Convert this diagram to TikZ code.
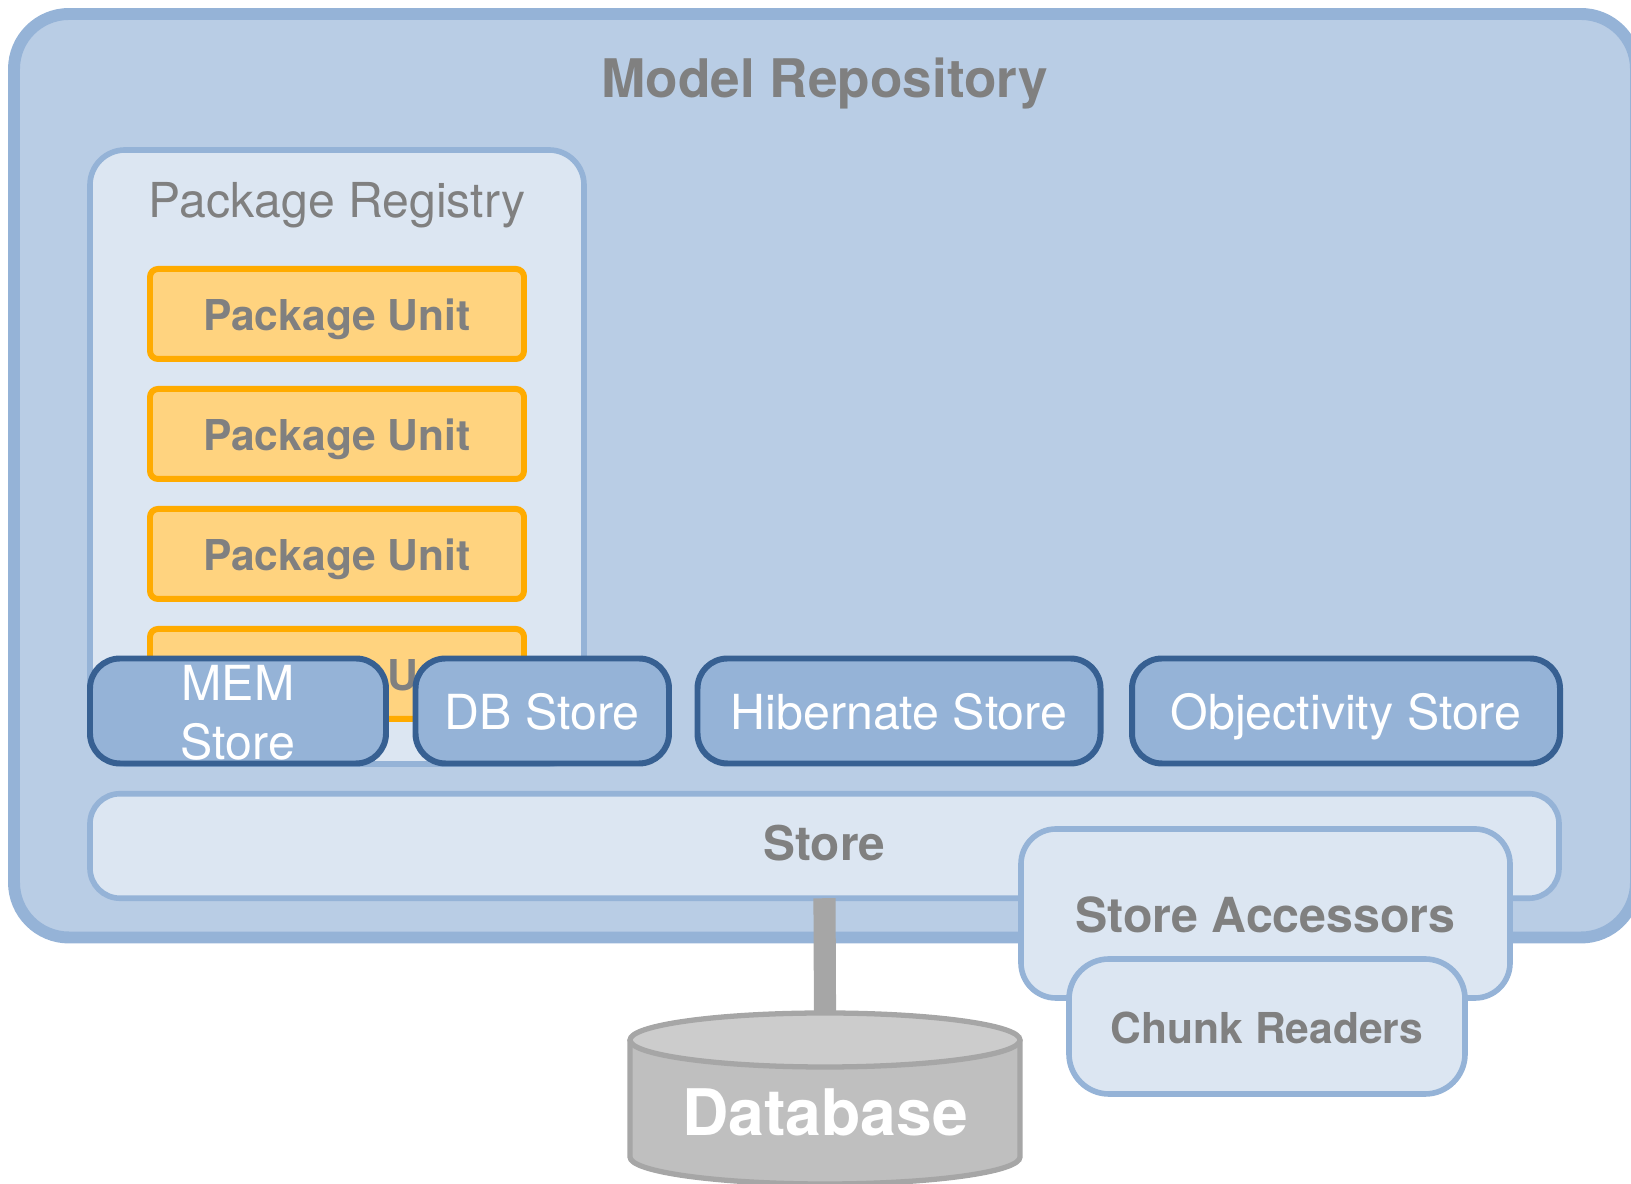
\documentclass[tikz,border=0pt]{standalone}
\usepackage{fontspec}
\setmainfont{TeX Gyre Heros}
\definecolor{repofill}{HTML}{B9CDE5}
\definecolor{repoline}{HTML}{95B3D7}
\definecolor{lightfill}{HTML}{DCE6F2}
\definecolor{unitfill}{HTML}{FFD37F}
\definecolor{unitline}{HTML}{FFAB00}
\definecolor{storeline}{HTML}{376092}
\definecolor{labelgrey}{HTML}{808080}
\definecolor{dbline}{HTML}{A6A6A6}
\definecolor{dbbody}{HTML}{BFBFBF}
\definecolor{dbtop}{HTML}{CCCCCC}
\tikzset{
    repobox/.style={draw=repoline, fill=repofill, line width=3.4pt, rounded corners=0.55cm,
        minimum width=16.22cm, minimum height=9.235cm},
    lightbox/.style={draw=repoline, fill=lightfill, line width=1.6pt, text=labelgrey},
    unitbox/.style={draw=unitline, fill=unitfill, line width=1.7pt, rounded corners=0.08cm,
        minimum width=3.74cm, minimum height=0.9cm, text=labelgrey, inner sep=0pt, text depth=0pt, text height=9.3pt,
        font=\fontsize{12.1}{15}\selectfont\bfseries},
    storebox/.style={draw=storeline, fill=repoline, line width=1.7pt, rounded corners=0.3cm,
        minimum height=1.05cm, text=white, inner sep=0pt, align=center,
        font=\fontsize{13.75}{17}\selectfont},
    title/.style={text=labelgrey, inner sep=0pt},
    dbshape/.style={draw=dbline, line width=1.5pt}
}
\begin{document}
\begin{tikzpicture}

    \clip (0,0) rectangle (16.31,11.84);

    \node[repobox] (repo) at (8.25,7.0825) {};
    \node[title, font=\fontsize{15.13}{18}\selectfont\bfseries] (repotitle) at (8.25,11.0) {Model Repository};

    \node[lightbox, rounded corners=0.35cm, minimum width=4.94cm, minimum height=6.14cm] (registry) at (3.37,7.27) {};
    \node[title, font=\fontsize{13.7}{16}\selectfont] (registrytitle) at (3.37,9.79) {Package Registry};

    \foreach \y/\n in {8.7/a,7.5/b,6.3/c,5.1/d}
      \node[unitbox] (unit\n) at (3.37,\y) {Package Unit};

    \node[storebox, minimum width=2.96cm, text width=2.96cm, text height=11.1pt] (memstore) at (2.38,4.73) {MEM\\Store};
    \node[storebox, minimum width=2.535cm, text depth=0pt] (dbstore) at (5.4225,4.73) {DB Store};
    \node[storebox, minimum width=4.03cm, text depth=0pt] (hibstore) at (8.99,4.73) {Hibernate Store};
    \node[storebox, minimum width=4.28cm, text depth=0pt] (objstore) at (13.46,4.73) {Objectivity Store};

    \node[lightbox, rounded corners=0.3cm, minimum width=14.69cm, minimum height=1.045cm, text depth=1.8pt,
        font=\fontsize{13.6}{16}\selectfont\bfseries] (store) at (8.245,3.38) {Store};

    \draw[dbshape, fill=dbbody] (6.3,1.44) -- (6.3,0.27) arc[start angle=180, end angle=360, x radius=1.95, y radius=0.27] -- (10.2,1.44);
    \draw[dbshape, fill=dbtop] (8.25,1.44) ellipse [x radius=1.95, y radius=0.27];
    \coordinate (dbtop) at (8.25,1.71);
    \node[title, text=white, font=\fontsize{18.27}{20}\selectfont\bfseries] (dbtitle) at (8.25,0.72) {Database};
    \draw[dbline, line width=6.3pt, shorten <=-0.8pt] (store.south) -- (dbtop);

    \node[lightbox, rounded corners=0.35cm, minimum width=4.89cm, minimum height=1.69cm, text height=10.8pt,
        font=\fontsize{13.75}{16}\selectfont\bfseries] (accessors) at (12.655,2.705) {Store Accessors};
    \node[lightbox, rounded corners=0.4cm, minimum width=3.96cm, minimum height=1.35cm, text height=10pt,
        font=\fontsize{12.12}{15}\selectfont\bfseries] (readers) at (12.67,1.575) {Chunk Readers};

\end{tikzpicture}
\end{document}
